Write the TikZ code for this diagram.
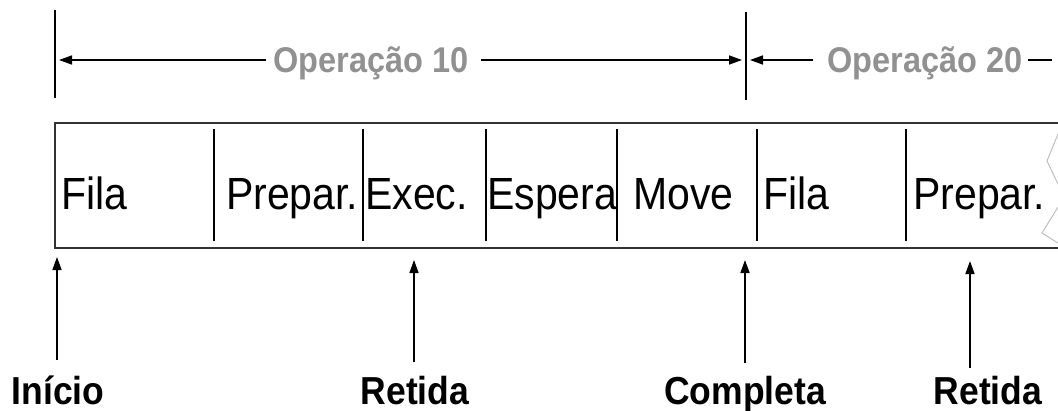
\documentclass[tikz,border=0pt]{standalone}
\usepackage{fontspec}
\setmainfont{Liberation Sans}
\usetikzlibrary{arrows.meta}
\definecolor{opgray}{RGB}{145,145,145}
\definecolor{tornGray}{RGB}{190,190,190}
\newcommand{\tallt}[1]{\scalebox{1}[1.1]{#1}}
\begin{document}
\begin{tikzpicture}[x=1pt,y=-1pt,
  phase/.style={anchor=base west,inner sep=0pt,font=\fontsize{41}{41}\selectfont},
  event/.style={anchor=base,inner sep=0pt,font=\bfseries\fontsize{35.5}{36}\selectfont},
  optext/.style={anchor=base west,inner sep=0pt,text=opgray,font=\bfseries\fontsize{32.5}{33}\selectfont},
  arr/.style={line width=1.5pt,-{Triangle[length=13pt,width=9pt]}},
  divider/.style={line width=1.5pt,black}]
\useasboundingbox (0,0) rectangle (1058,410);
% top markers
\coordinate (m1t) at (55,10); \coordinate (m1b) at (55,98);
\coordinate (m2t) at (746,12); \coordinate (m2b) at (746,100);
\draw[divider] (m1t) -- (m1b);
\draw[divider] (m2t) -- (m2b);
\node[optext] (op10) at (273,72) {\tallt{Operação 10}};
\node[optext] (op20) at (827,72) {\tallt{Operação 20}};
\coordinate (a1) at (266,60); \coordinate (a1t) at (59,60);
\coordinate (a2) at (481,60); \coordinate (a2t) at (742,60);
\coordinate (a3) at (813,60); \coordinate (a3t) at (750,60);
\coordinate (a4) at (1028,60); \coordinate (a4e) at (1052,60);
\draw[arr] (a1) -- (a1t);
\draw[arr] (a2) -- (a2t);
\draw[arr] (a3) -- (a3t);
\draw[line width=1.5pt] (a4) -- (a4e);
% box
\draw[line width=1.6pt,draw=black!80] (1058,123) -- (55,123) -- (55,248) -- (1058,248);
\foreach \x in {214,363,486,617,757,906}{
  \draw[divider] (\x,129) -- (\x,241);
}
% torn edge
\draw[tornGray,line width=1pt] (1058,134) -- (1047,161) -- (1058,184);
\draw[tornGray,line width=1pt] (1058,207) -- (1042,233) -- (1058,243);
% phases
\node[phase] (f1) at (61,209) {\tallt{Fila}};
\node[phase] (p1) at (226,209) {\tallt{Prepar.}};
\node[phase] (ex) at (365,209) {\tallt{Exec.}};
\node[phase] (es) at (487,209) {\tallt{Espera}};
\node[phase] (mv) at (633,209) {\tallt{Move}};
\node[phase] (f2) at (763,209) {\tallt{Fila}};
\node[phase] (p2) at (913,209) {\tallt{Prepar.}};
% events
\node[event] (ini) at (58,404) {\tallt{Início}};
\node[event] (ret1) at (415,404) {\tallt{Retida}};
\node[event] (comp) at (745,404) {\tallt{Completa}};
\node[event] (ret2) at (988,404) {\tallt{Retida}};
\coordinate (e1b) at (57,360); \coordinate (e1t) at (57,257);
\coordinate (e2b) at (414,362); \coordinate (e2t) at (414,260);
\coordinate (e3b) at (745,363); \coordinate (e3t) at (745,260);
\coordinate (e4b) at (970,368); \coordinate (e4t) at (970,261);
\draw[arr] (e1b) -- (e1t);
\draw[arr] (e2b) -- (e2t);
\draw[arr] (e3b) -- (e3t);
\draw[arr] (e4b) -- (e4t);
\end{tikzpicture}
\end{document}
